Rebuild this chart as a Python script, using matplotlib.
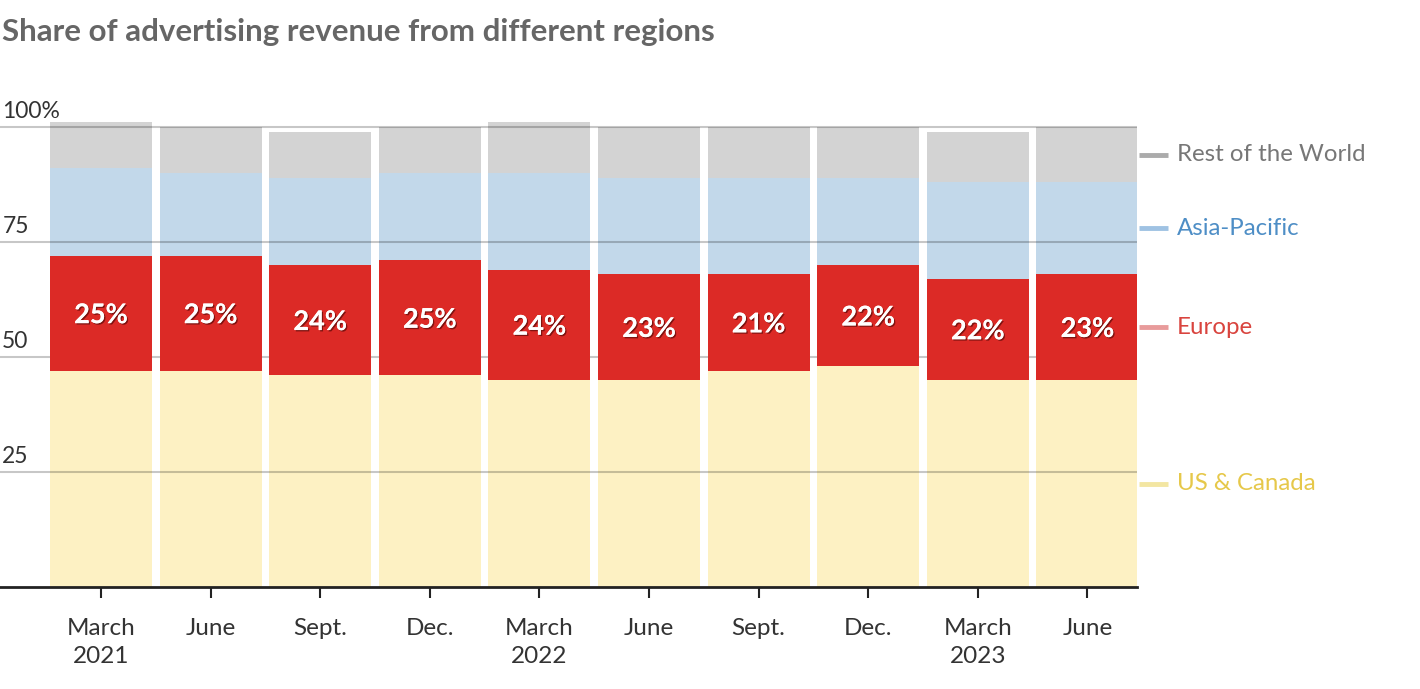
import numpy as np
import matplotlib
matplotlib.use("Agg")
from matplotlib import pyplot as plt
from matplotlib import patheffects as pe
from matplotlib import transforms

# Daten
quarters = ["March\n2021", "June", "Sept.", "Dec.", "March\n2022", "June",
            "Sept.", "Dec.", "March\n2023", "June"]
us_canada = [47, 47, 46, 46, 45, 45, 47, 48, 45, 45]
europe = [25, 25, 24, 25, 24, 23, 21, 22, 22, 23]
asia_pacific = [19, 18, 19, 19, 21, 21, 21, 19, 21, 20]
rest_world = [10, 10, 10, 10, 11, 11, 11, 11, 11, 12]

series_names = ["US & Canada", "Europe", "Asia-Pacific", "Rest of the World"]
bar_colors = ["#fdf1c3", "#dc2a26", "#c2d8ea", "#d3d3d3"]
line_colors = ["#f3e6a2", "#e89b9b", "#9fc2e3", "#ababab"]
text_colors = ["#e6c84a", "#d9443e", "#4e8ec6", "#777777"]

plt.rcParams['font.family'] = ['Lato', 'DejaVu Sans']

fig = plt.figure(figsize=(14.2, 6.89), dpi=100)
# Achse: links x=0, rechts x=1137, unten y=587, oben y=118
ax = fig.add_axes([0, 1 - 587 / 689, 1137 / 1420, (587 - 118) / 689])

x = np.arange(len(quarters))
data = [us_canada, europe, asia_pacific, rest_world]
bottom = np.zeros(len(x))
for vals, c in zip(data, bar_colors):
    # Europa liegt ueber den Gitterlinien, die anderen darunter
    z = 3 if c == "#dc2a26" else 1
    ax.bar(x, vals, bottom=bottom, width=0.93, color=c, zorder=z)
    bottom = bottom + np.array(vals)

ax.set_xlim(-101 / 109.6, (1137 - 101) / 109.6)
ax.set_ylim(0, (587 - 118) / 4.6)

trans = transforms.blended_transform_factory(ax.transAxes, ax.transData)
for v in [25, 50, 75, 100]:
    ax.axhline(v, color="#000000", alpha=0.22, lw=1.5, zorder=2)
    lab = "100%" if v == 100 else str(v)
    ax.text(0.002, v + 1.0, lab, transform=trans, ha="left", va="bottom",
            fontsize=16.5, color="#333333")

# Prozentwerte Europa
eu_mid = np.array(us_canada) + np.array(europe) / 2
for xi, m, e in zip(x, eu_mid, europe):
    ax.text(xi, m - 0.4, str(e) + "%", ha="center", va="center", fontsize=19.5,
            fontweight="bold", color="white", zorder=4,
            path_effects=[pe.withSimplePatchShadow(offset=(1, -1), shadow_rgbFace="#5a0a08", alpha=0.7),
                          pe.Normal()])

# Legende rechts, an den Segmenten des letzten Balkens
last = [d[-1] for d in data]
cum = np.cumsum([0] + last)
for i, name in enumerate(series_names):
    mid = (cum[i] + cum[i + 1]) / 2
    ax.plot([1.002, 1.027], [mid, mid], transform=trans, color=line_colors[i],
            lw=3.5, clip_on=False, solid_capstyle="butt")
    ax.text(1.035, mid, name, transform=trans, ha="left", va="center",
            fontsize=17.3, color=text_colors[i])

for s in ["top", "right", "left"]:
    ax.spines[s].set_visible(False)
ax.spines["bottom"].set_color("#222222")
ax.spines["bottom"].set_linewidth(2)
ax.spines["bottom"].set_zorder(5)
ax.set_yticks([])
ax.set_xticks(x)
ax.set_xticklabels(quarters, fontsize=17.5, color="#333333", linespacing=1.42)
ax.tick_params(axis="x", length=8, width=1.5, color="#222222", pad=14)

fig.text(2 / 1420, 1 - 32 / 689, "Share of advertising revenue from different regions",
         ha="left", va="center", fontsize=22.5, fontweight="bold", color="#666666")

fig.savefig("out.png", dpi=100)
